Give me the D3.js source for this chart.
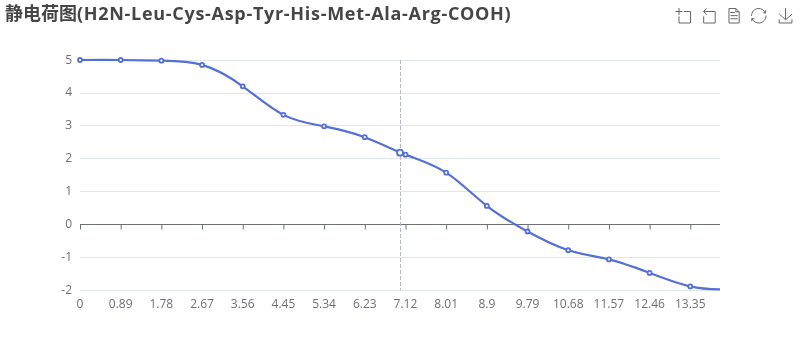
<!DOCTYPE html>
<html>
<head>
<meta charset="utf-8">
<script src="https://cdn.jsdelivr.net/npm/d3@7"></script>
<style>
  html, body { margin: 0; padding: 0; background: #fff; }
  svg { will-change: transform; }
  text { font-family: "Open Sans", "Noto Sans CJK SC", sans-serif; }
</style>
</head>
<body>
<div id="chart"></div>
<script>
const titleCn = "静电荷图";
const titleSeq = "(H2N-Leu-Cys-Asp-Tyr-His-Met-Ala-Arg-COOH)";
const ph = [0, 0.89, 1.78, 2.67, 3.56, 4.45, 5.34, 6.23, 7.12, 8.01, 8.9, 9.79, 10.68, 11.57, 12.46, 13.35];
const charge = [5, 5, 4.98, 4.85, 4.2, 3.33, 2.98, 2.65, 2.12, 1.57, 0.56, -0.22, -0.79, -1.07, -1.48, -1.89];
const endPh = [14];
const endCharge = [-1.98];
const hoverPh = [7];
const hoverCharge = [2.18];
const yTicks = [5, 4, 3, 2, 1, 0, -1, -2];

const width = 800,
  height = 360;

const x = d3.scaleLinear().domain([0, 14]).range([80, 720]);
const y = d3.scaleLinear().domain([-2, 5]).range([290, 60]);
const snapY = (d) => Math.round(y(d) - 0.3) + 0.5;

const svg = d3
  .select("#chart")
  .append("svg")
  .attr("width", width)
  .attr("height", height)
  .style("display", "block");

const title = svg
  .append("text")
  .attr("x", 5)
  .attr("y", 19.5)
  .attr("font-size", 18)
  .attr("font-weight", "bold")
  .attr("fill", "#464646");
title.append("tspan").text(titleCn);
title.append("tspan").attr("letter-spacing", 0.7).text(titleSeq);

// gridlines
svg
  .selectAll(".grid")
  .data(yTicks.filter((d) => d !== 0))
  .join("line")
  .attr("x1", 80)
  .attr("x2", 720)
  .attr("y1", snapY)
  .attr("y2", snapY)
  .attr("stroke", "#e0e6f1");

// y labels
svg
  .selectAll(".ylab")
  .data(yTicks)
  .join("text")
  .attr("x", 72)
  .attr("y", (d) => y(d) - 1)
  .attr("text-anchor", "end")
  .attr("dominant-baseline", "central")
  .attr("font-size", 12)
  .attr("fill", "#6e7079")
  .text((d) => d);

// x axis sits on zero
const axis = d3
  .axisBottom(x)
  .tickValues(ph)
  .tickSize(5)
  .tickFormat("");
const axisG = svg
  .append("g")
  .attr("transform", `translate(0,${snapY(0)})`)
  .call(axis);
axisG.selectAll("path, line").attr("stroke", "#6e7079");
axisG.select(".domain").attr("d", "M80,0H720");

svg
  .selectAll(".xlab")
  .data(ph)
  .join("text")
  .attr("x", (d) => x(d))
  .attr("y", 303)
  .attr("text-anchor", "middle")
  .attr("dominant-baseline", "central")
  .attr("font-size", 12)
  .attr("fill", "#6e7079")
  .text((d) => d);

// axis pointer
svg
  .append("line")
  .attr("x1", Math.round(x(hoverPh[0])) + 0.5)
  .attr("x2", Math.round(x(hoverPh[0])) + 0.5)
  .attr("y1", y(5))
  .attr("y2", y(-2))
  .attr("stroke", "#b6b9c9")
  .attr("stroke-dasharray", "4 2");

// curve
const linePts = ph
  .map((d, i) => [d, charge[i]])
  .concat(endPh.map((d, i) => [d, endCharge[i]]));

const line = d3
  .line()
  .x((d) => x(d[0]))
  .y((d) => y(d[1]))
  .curve(d3.curveNatural);

svg
  .append("path")
  .datum(linePts)
  .attr("d", line)
  .attr("fill", "none")
  .attr("stroke", "#5470d6")
  .attr("stroke-width", 2.2);

svg
  .selectAll(".pt")
  .data(ph)
  .join("circle")
  .attr("cx", (d) => x(d))
  .attr("cy", (d, i) => y(charge[i]))
  .attr("r", 2)
  .attr("fill", "#fff")
  .attr("stroke", "#5470d6")
  .attr("stroke-width", 1.8);

svg
  .selectAll(".hover")
  .data(hoverPh)
  .join("circle")
  .attr("cx", (d) => x(d))
  .attr("cy", (d, i) => y(hoverCharge[i]))
  .attr("r", 3)
  .attr("fill", "#fff")
  .attr("stroke", "#5470d6")
  .attr("stroke-width", 1.8);

// toolbox icons
const icons = [
  [675.5, "M0,13.5h26.9 M13.5,26.9V0 M32.1,13.5H58V58H13.5 V32.1"],
  [701, "M22,1.4L9.9,13.5l12.3,12.3 M10.3,13.5H54.9v44.6 H10.3v-26"],
  [726, "M17.5,17.3H33 M17.5,17.3H33 M45.4,29.5h-28 M11.5,2v56H51V14.8L38.4,2H11.5z M38.4,2.2v12.7H51 M45.4,41.7h-28"],
  [751, "M3.8,33.4 M47,18.9h9.8V8.7 M56.3,20.1 C52.1,9,40.5,0.6,26.8,2.1C12.6,3.7,1.6,16.2,2.1,30.6 M13,41.1H3.1v10.2 M3.7,39.9c4.2,11.1,15.8,19.5,29.5,18 c14.2-1.6,25.2-14.1,24.7-28.5"],
  [778, "M4.7,22.9L29.3,45.5L54.7,23.4M4.6,43.6L4.6,58L53.8,58L53.8,43.6M29.2,45.1L29.2,0"],
];
const s = 15 / 58;
svg
  .selectAll(".icon")
  .data(icons)
  .join("path")
  .attr("transform", (d) => `translate(${d[0]},8) scale(${s})`)
  .attr("d", (d) => d[1])
  .attr("fill", "none")
  .attr("stroke", "#666")
  .attr("stroke-width", 1 / s);
</script>
</body>
</html>
